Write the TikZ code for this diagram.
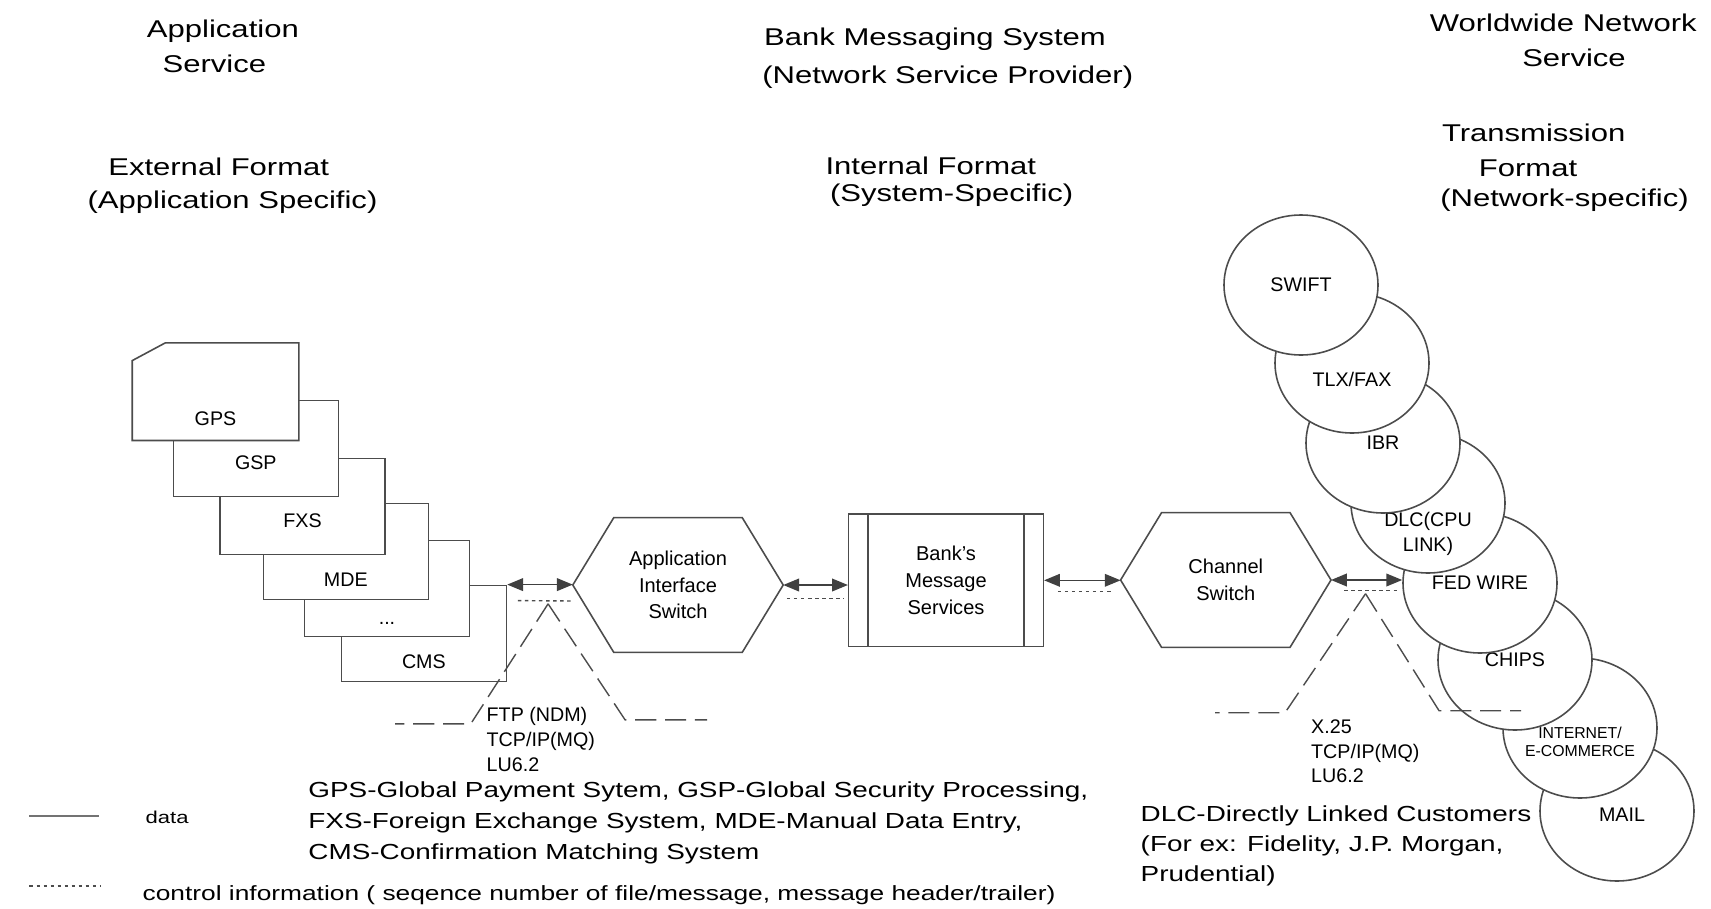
\documentclass[tikz,border=0pt]{standalone}
\usepackage{fontspec}
\setmainfont{Liberation Sans}
\newfontfamily\widefont[FakeStretch=1.28]{Liberation Sans}
\usetikzlibrary{shapes.geometric,arrows.meta}

\begin{document}
\begin{tikzpicture}
[   font=\fontsize{5.6pt}{7pt}\selectfont,
    >={Triangle[length=4.5pt,width=3.6pt]},
    boxline/.style={draw=black!70,line width=0.45pt},
    sysbox/.style={boxline,fill=white,minimum width=1.65cm,minimum height=0.96cm,inner sep=0pt,text height=#1,text depth=0pt},
    swnode/.style={minimum width=2.09cm,minimum height=1.334cm,align=center,inner sep=0pt,font=\fontsize{5.7pt}{7.6pt}\selectfont},
    net/.style={ellipse,boxline,fill=white,minimum width=1.54cm,minimum height=1.40cm,inner sep=0pt},
    link/.style={<->,draw=black!75,fill=black!75,line width=0.45pt},
    ctrl/.style={draw=black!70,line width=0.4pt,dash pattern=on 1pt off 1pt},
    cone/.style={draw=black!70,line width=0.4pt,dash pattern=on 6pt off 2.5pt},
    head/.style={anchor=base,font=\widefont\fontsize{6.9pt}{9pt}\selectfont},
    note/.style={anchor=north west,align=left,inner sep=0pt,font=\widefont\fontsize{6.2pt}{8.8pt}\selectfont},
    proto/.style={anchor=north west,align=left,inner sep=0pt},
    every label/.style={align=center},
]
    \useasboundingbox (0,0) rectangle (17.11,-9.09);

%%%%%%%%%%%%%%%%%%%% HEADINGS %%%%%%%%%%%%%%%%%%%%%%%%%%%%%%%%%%%
    \node[head] (h1) at (2.229,-0.377) {Application};
    \node[head] (h2) at (2.143,-0.727) {Service};
    \node[head] (h3) at (2.187,-1.75) {External Format};
    \node[head] (h4) at (2.325,-2.08) {(Application Specific)};

    \node[head] (h5) at (9.35,-0.457) {Bank Messaging System};
    \node[head] (h6) at (9.478,-0.833) {(Network Service Provider)};
    \node[head] (h7) at (9.308,-1.743) {Internal Format};
    \node[head] (h8) at (9.517,-2.01) {(System-Specific)};

    \node[head] (h9) at (15.633,-0.31) {Worldwide Network};
    \node[head] (h10) at (15.74,-0.66) {Service};
    \node[head] (h11) at (15.337,-1.41) {Transmission};
    \node[head] (h12) at (15.28,-1.76) {Format};
    \node[head] (h13) at (15.645,-2.06) {(Network-specific)};


%%%%%%%%%%%%%%%%%%%% APPLICATIONS %%%%%%%%%%%%%%%%%%%%%%%%%%%%%%%%%%%
    \node[sysbox=0.70cm] (cms) at (4.239,-6.334) {CMS};
    \node[sysbox=0.72cm] (dots) at (3.870,-5.887) {...};
    \node[sysbox=0.70cm] (mde) at (3.458,-5.513) {MDE};
    \node[sysbox=0.42cm] (fxs) at (3.025,-5.064) {FXS};
    \node[sysbox=0.42cm] (gsp) at (2.558,-4.484) {GSP};
    \node[sysbox=0.68cm,draw=none] (gps) at (2.155,-3.917) {GPS};
    \draw[boxline] ([xshift=3.3mm]gps.north west) -- (gps.north east) -- (gps.south east)
        -- (gps.south west) -- ([yshift=-1.77mm]gps.north west) -- cycle;


%%%%%%%%%%%%%%%%%%%% SWITCHES AND BANK %%%%%%%%%%%%%%%%%%%%%%%%%%%%%%%%%%%
    \node[swnode] (ais) at (6.78,-5.85) {Application\\Interface\\Switch};
    \node[swnode] (chs) at (12.258,-5.80) {Channel\\Switch};
    \foreach \n in {ais,chs}
    {
        \draw[boxline] (\n.west) -- ([xshift=4.1mm]\n.north west) -- ([xshift=-4.1mm]\n.north east)
            -- (\n.east) -- ([xshift=-4.1mm]\n.south east) -- ([xshift=4.1mm]\n.south west) -- cycle;
    }

    \node[boxline,minimum width=1.946cm,minimum height=1.327cm,align=center,inner sep=0pt,
        font=\fontsize{5.7pt}{7.6pt}\selectfont] (bms) at (9.46,-5.803) {Bank's\\Message\\Services};
    \draw[boxline] ([xshift=2mm]bms.north west) -- ([xshift=2mm]bms.south west);
    \draw[boxline] ([xshift=-2mm]bms.north east) -- ([xshift=-2mm]bms.south east);


%%%%%%%%%%%%%%%%%%%% NETWORKS %%%%%%%%%%%%%%%%%%%%%%%%%%%%%%%%%%%
    \node[net,label={[xshift=0.05cm,yshift=-0.035cm]center:MAIL}] (mail) at (16.17,-8.11) {};
    \node[net,label={[yshift=-0.14cm,font=\fontsize{4.5pt}{5.3pt}\selectfont]center:INTERNET/\\E-COMMERCE}] (inet) at (15.80,-7.28) {};
    \node[net] (chips) at (15.15,-6.60) {CHIPS};
    \node[net] (fed) at (14.80,-5.83) {FED WIRE};
    \node[net,label={[yshift=-0.31cm]center:DLC(CPU\\LINK)}] (dlc) at (14.28,-5.03) {};
    \node[net] (ibr) at (13.83,-4.43) {IBR};
    \node[net,label={[yshift=-0.16cm]center:TLX/FAX}] (tlx) at (13.52,-3.63) {};
    \node[net] (swift) at (13.01,-2.85) {SWIFT};


%%%%%%%%%%%%%%%%%%%% LINKS %%%%%%%%%%%%%%%%%%%%%%%%%%%%%%%%%%%
    \draw[link] (cms.north east) -- (cms.north east -| ais.west);
    \draw[link] (ais.east) -- (ais.east -| bms.west);
    \draw[link] (bms.east) -- (bms.east -| chs.west);
    \draw[link] (chs.east) -- (chs.east -| fed.west);

    \draw[ctrl] ([shift={(0.107,-0.16)}]cms.north east) -- node[coordinate,pos=0.55] (apx1) {} ([yshift=-0.16cm]ais.west);
    \draw[ctrl] ([shift={(0.037,-0.133)}]ais.east) -- ([shift={(-0.04,-0.133)}]ais.east -| bms.west);
    \draw[ctrl] ([shift={(0.137,-0.114)}]bms.east) -- ([shift={(-0.067,-0.114)}]bms.east -| chs.west);
    \draw[ctrl] ([shift={(0.133,-0.107)}]chs.east) -- node[coordinate,pos=0.38] (apx2) {} ([shift={(-0.02,-0.107)}]chs.east -| fed.west);

    % protocol callouts
    \draw[cone] ([yshift=-0.03cm]apx1) -- ++(-0.773,-1.20) -- ++(-0.757,0);
    \draw[cone] ([yshift=-0.03cm]apx1) -- ++(0.77,-1.16) -- ++(0.82,0);
    \draw[cone] ([yshift=-0.03cm]apx2) -- ++(-0.805,-1.19) -- ++(-0.70,0);
    \draw[cone] ([yshift=-0.03cm]apx2) -- ++(0.735,-1.17) -- ++(0.82,0);

    \node[proto] (ftp) at (4.86,-7.07) {FTP (NDM)\\TCP/IP(MQ)\\LU6.2};
    \node[proto] (x25) at (13.105,-7.19) {X.25\\TCP/IP(MQ)\\LU6.2};


%%%%%%%%%%%%%%%%%%%% LEGEND %%%%%%%%%%%%%%%%%%%%%%%%%%%%%%%%%%%
    \node[note] (abbr) at (3.077,-7.81) {GPS-Global Payment Sytem, GSP-Global Security Processing,\\FXS-Foreign Exchange System, MDE-Manual Data Entry,\\CMS-Confirmation Matching System};
    \node[note,font=\widefont\fontsize{6.2pt}{8.5pt}\selectfont] (dlcnote) at (11.40,-8.05) {DLC-Directly Linked Customers\\(For ex: Fidelity, J.P. Morgan,\\Prudential)};

    \coordinate (d1) at (0.295,-8.16);
    \coordinate (d2) at (0.993,-8.16);
    \draw[draw=black!55,line width=0.45pt] (d1) -- (d2);
    \node[anchor=base west,inner sep=0pt,font=\widefont\fontsize{4.9pt}{6pt}\selectfont] (dtxt) at (1.45,-8.23) {data};

    \coordinate (c1) at (0.295,-8.86);
    \coordinate (c2) at (1.0,-8.86);
    \draw[ctrl] (c1) -- (c2);
    \node[anchor=base west,inner sep=0pt,font=\widefont\fontsize{5.85pt}{8pt}\selectfont] (ctxt) at (1.42,-9.0) {control information ( seqence number of file/message, message header/trailer)};

\end{tikzpicture}
\end{document}
